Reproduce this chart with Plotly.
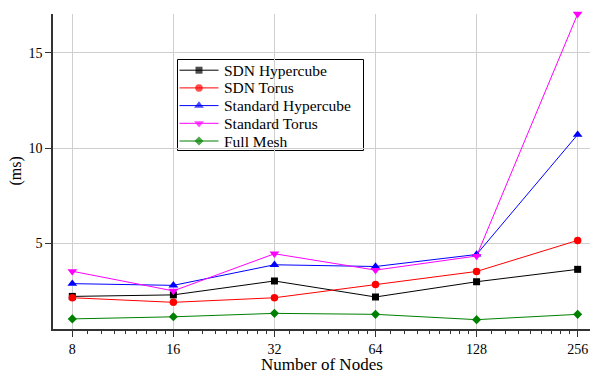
import math
import plotly.graph_objects as go

# ---------------- data ----------------
nodes = [8, 16, 32, 64, 128, 256]
tick_labels = ["8", "16", "32", "64", "128", "256"]
series_names = ["SDN Hypercube", "SDN Torus", "Standard Hypercube", "Standard Torus", "Full Mesh"]
sdn_hypercube = [2.22, 2.30, 3.03, 2.19, 2.99, 3.64]
sdn_torus = [2.15, 1.91, 2.15, 2.85, 3.53, 5.16]
std_hypercube = [2.89, 2.80, 3.88, 3.79, 4.42, 10.71]
std_torus = [3.54, 2.51, 4.46, 3.60, 4.34, 17.04]
full_mesh = [1.04, 1.15, 1.33, 1.28, 1.00, 1.28]
y_ticks = [5, 10, 15]

# ---------------- styles ----------------
series_values = [sdn_hypercube, sdn_torus, std_hypercube, std_torus, full_mesh]
colors = ["#000000", "#FF0000", "#0000FF", "#FF00FF", "#008000"]
symbols = ["square", "circle", "triangle-up", "triangle-down", "diamond"]
sizes = [7, 7.5, 8.5, 8.5, 7]
FONT = '"Liberation Serif", "Times New Roman", Times, "DejaVu Serif", serif'

# plot-area geometry (pixels)
W, H = 590, 373
L, R, T, B = 53, 590, 14, 329

fig = go.Figure()
for name, vals, c, s, sz in zip(series_names, series_values, colors, symbols, sizes):
    fig.add_trace(go.Scatter(
        x=nodes, y=vals, name=name, mode="lines+markers",
        line=dict(color=c, width=1),
        marker=dict(color=c, symbol=s, size=sz, line=dict(width=0)),
        cliponaxis=False, showlegend=False,
    ))

# ---------------- custom legend ----------------
box_x0, box_x1, box_y0, box_y1 = 177.5, 363.5, 59.5, 150.5
row0, row_gap = 70.2, 17.7
line_x0, line_x1, mark_x, text_x = 179.5, 218.5, 199, 222


def px_x(p):
    return (p - L) / (R - L)


def px_y(p):
    return (B - p) / (B - T)


shapes = [dict(type="rect", xref="paper", yref="paper",
               x0=px_x(box_x0), x1=px_x(box_x1), y0=px_y(box_y1), y1=px_y(box_y0),
               line=dict(color="#000000", width=1), fillcolor="white", layer="between")]
annotations = []
for i, (name, c, s, sz) in enumerate(zip(series_names, colors, symbols, sizes)):
    ry = row0 + i * row_gap
    fig.add_trace(go.Scatter(
        x=[line_x0, mark_x, line_x1], y=[ry, ry, ry], mode="lines+markers",
        line=dict(color=c, width=1),
        marker=dict(color=c, symbol=s, size=[0, sz, 0], line=dict(width=0)),
        xaxis="x2", yaxis="y2", showlegend=False, hoverinfo="skip",
    ))
    annotations.append(dict(text=name, xref="paper", yref="paper",
                            x=px_x(text_x), y=px_y(ry), xanchor="left", yanchor="middle",
                            showarrow=False, font=dict(family=FONT, size=15.5, color="#000000")))

# axis titles
annotations.append(dict(text="Number of Nodes", xref="paper", yref="paper",
                        x=0.5, y=px_y(364), xanchor="center", yanchor="middle",
                        showarrow=False, font=dict(family=FONT, size=17, color="#000000")))
annotations.append(dict(text="(ms)", xref="paper", yref="paper",
                        x=px_x(15), y=0.5, xanchor="center", yanchor="middle", textangle=-90,
                        showarrow=False, font=dict(family=FONT, size=16, color="#000000")))

minor_ticks = [b * (1 + k / 9) for b in nodes[:-1] for k in range(1, 9)]
octave_px = 101.07
lo = 3 - (72.3 - L) / octave_px
hi = lo + (R - L) / octave_px

fig.update_layout(
    width=W, height=H, autosize=False,
    margin=dict(l=L, r=W - R, t=T, b=H - B, pad=0),
    paper_bgcolor="white", plot_bgcolor="white",
    font=dict(family=FONT, size=14, color="#000000"),
    showlegend=False,
    shapes=shapes, annotations=annotations,
    xaxis=dict(type="log", range=[lo * math.log10(2), hi * math.log10(2)],
               tickmode="array", tickvals=nodes, ticktext=tick_labels,
               ticks="outside", ticklen=6, tickwidth=1, tickcolor="#333333",
               showline=True, linecolor="#333333", linewidth=1.5,
               showgrid=True, gridcolor="#cfcfcf", gridwidth=1, zeroline=False,
               automargin=False,
               minor=dict(tickmode="array", tickvals=minor_ticks, ticks="outside",
                          ticklen=3, tickwidth=1, tickcolor="#333333", showgrid=False),
               tickfont=dict(family=FONT, size=14, color="#000000")),
    yaxis=dict(range=[0.51, 17.04], tickmode="array", tickvals=y_ticks,
               ticks="outside", ticklen=6, tickwidth=1, tickcolor="#333333",
               showline=True, linecolor="#333333", linewidth=1.5,
               showgrid=True, gridcolor="#cfcfcf", gridwidth=1, zeroline=False,
               automargin=False,
               tickfont=dict(family=FONT, size=14, color="#000000")),
    xaxis2=dict(overlaying="x", anchor="y2", range=[L, R], visible=False, fixedrange=True),
    yaxis2=dict(overlaying="y", anchor="x2", range=[B, T], visible=False, fixedrange=True),
)

fig.write_html("out.html", config={"displayModeBar": False},
               post_script="document.body.style.margin='0px';")
